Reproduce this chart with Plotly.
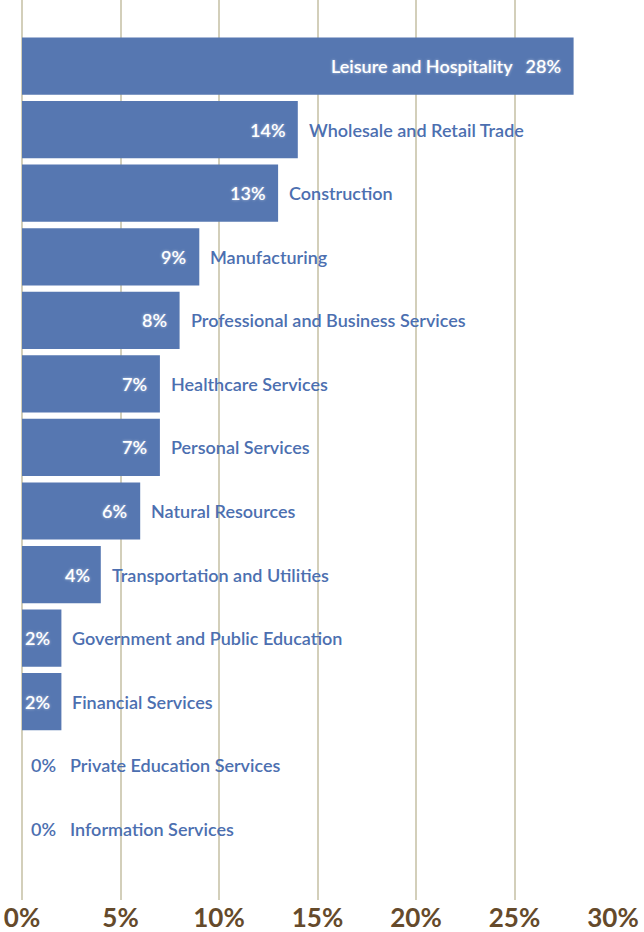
import plotly.graph_objects as go

# Share of businesses by industry (percent)
industries = [
    "Leisure and Hospitality", "Wholesale and Retail Trade", "Construction",
    "Manufacturing", "Professional and Business Services", "Healthcare Services",
    "Personal Services", "Natural Resources", "Transportation and Utilities",
    "Government and Public Education", "Financial Services",
    "Private Education Services", "Information Services",
]
shares = [28, 14, 13, 9, 8, 7, 7, 6, 4, 2, 2, 0, 0]
tick_vals = [0, 5, 10, 15, 20, 25, 30]
tick_text = ["0%", "5%", "10%", "15%", "20%", "25%", "30%"]

BAR = "#5677b1"
BLUE = "#4c6fb0"
BROWN = "#654a2b"
GRID = "#d3cfba"
FONT = "Lato"
SIZE = 18

fig = go.Figure(go.Bar(
    x=shares, y=industries, orientation="h",
    marker=dict(color=BAR, line=dict(width=0)),
    hoverinfo="skip",
))

glow = "0px 0px 3px rgba(255,255,255,0.55)"
white_font = dict(family=FONT, size=SIZE, color="white", weight=600, shadow=glow)
blue_font = dict(family=FONT, size=SIZE, color=BLUE, weight=600)

annotations = []
for i, (name, v) in enumerate(zip(industries, shares)):
    if i == 0:
        # biggest bar: both label and value sit inside the bar
        annotations.append(dict(x=v, y=name, text=f"{name}   {v}%", showarrow=False,
                                xanchor="right", xshift=-11, font=white_font))
    elif v == 0:
        annotations.append(dict(x=v, y=name, text=f"{v}%", showarrow=False,
                                xanchor="left", xshift=7, font=blue_font))
        annotations.append(dict(x=v, y=name, text=name, showarrow=False,
                                xanchor="left", xshift=46, font=blue_font))
    else:
        annotations.append(dict(x=v, y=name, text=f"{v}%", showarrow=False,
                                xanchor="right", xshift=-9 if v < 5 else -11,
                                font=white_font))
        annotations.append(dict(x=v, y=name, text=name, showarrow=False,
                                xanchor="left", xshift=9, font=blue_font))

fig.update_layout(
    width=644, height=932,
    margin=dict(l=22, r=31, t=0, b=32),
    paper_bgcolor="white", plot_bgcolor="white",
    bargap=0.1, showlegend=False,
    annotations=annotations,
    xaxis=dict(
        range=[0, 30], tickvals=tick_vals, ticktext=tick_text,
        showgrid=True, gridcolor=GRID, gridwidth=2,
        zeroline=True, zerolinecolor=GRID, zerolinewidth=2,
        showline=False, ticks="", automargin=False,
        tickfont=dict(family=FONT, size=26, color=BROWN, weight="bold"),
    ),
    yaxis=dict(
        type="category", categoryarray=industries,
        range=[13.12, -1.04], showticklabels=False,
        showgrid=False, zeroline=False, showline=False, ticks="",
    ),
)

fig.write_html("out.html", config={"displayModeBar": False},
               post_script="document.body.style.margin='0';")
